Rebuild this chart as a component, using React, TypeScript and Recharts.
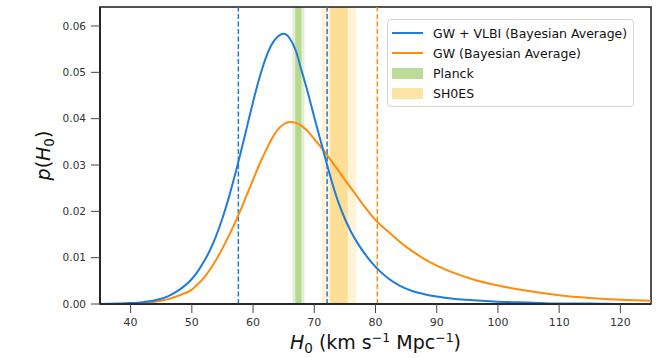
import React from "react"
import {
  ComposedChart,
  Line,
  XAxis,
  YAxis,
  ReferenceArea,
  ReferenceLine,
} from "recharts"

// H0 grid (km/s/Mpc) and the two posteriors
const h0Values = [
  35, 38, 40, 42, 44, 46, 48, 50, 51, 52, 53, 54, 55, 56, 57, 58, 59, 60, 61, 62, 63, 64, 65, 66, 67,
  68, 69, 70, 71, 72, 73, 74, 75, 76, 77, 78, 80, 82, 84, 86, 88, 90, 93, 96, 100, 105, 110, 115, 120, 125,
]
const gwVlbiValues = [
  0.0, 0.0001, 0.0002, 0.0004, 0.0008, 0.0016, 0.0031, 0.0054, 0.0071, 0.0092, 0.0117, 0.0148, 0.0185,
  0.0228, 0.0276, 0.0328, 0.0382, 0.0436, 0.0486, 0.0528, 0.0559, 0.0577, 0.0583, 0.0573, 0.0546, 0.05,
  0.0454, 0.0403, 0.0354, 0.0305, 0.0258, 0.0217, 0.0184, 0.0156, 0.0133, 0.0113, 0.008, 0.0056, 0.0039,
  0.0028, 0.0021, 0.0016, 0.0011, 0.0008, 0.0005, 0.0003, 0.0001, 0.0001, 0.0, 0.0,
]
const gwValues = [
  0.0, 0.0, 0.0001, 0.0002, 0.0005, 0.001, 0.0019, 0.0031, 0.0043, 0.0057, 0.0075, 0.0096, 0.012, 0.0146,
  0.0174, 0.0204, 0.0236, 0.0268, 0.03, 0.0329, 0.0355, 0.0376, 0.0388, 0.0393, 0.0391, 0.0384, 0.0372,
  0.0356, 0.034, 0.0323, 0.0305, 0.0287, 0.0268, 0.025, 0.0232, 0.0214, 0.0181, 0.0157, 0.0134, 0.0114,
  0.0097, 0.0083, 0.0066, 0.0053, 0.004, 0.0028, 0.0019, 0.0013, 0.0009, 0.0007,
]

// credible-interval markers and reference measurements
const gwVlbiInterval = [57.6, 72.1]
const gwUpper = 80.3
const planck = { mean: 67.4, sigma: 0.5 }
const shoes = { mean: 74.03, sigma: 1.42 }

const xTicks = [40, 50, 60, 70, 80, 90, 100, 110, 120]
const yTicks = [0, 0.01, 0.02, 0.03, 0.04, 0.05, 0.06]
const xDomain = [35, 125]
const yDomain = [0, 0.0641]

const data = h0Values.map((h0, i) => ({ h0, gwVlbi: gwVlbiValues[i], gw: gwValues[i] }))

const BLUE = "#1f7bdc"
const ORANGE = "#ff8c0a"
const FONT = "DejaVu Sans"

function XLabel(props: any) {
  const { viewBox } = props
  const cx = viewBox.x + viewBox.width / 2
  const y = viewBox.y + 45
  return (
    <text x={cx} y={y} textAnchor="middle" fontFamily={FONT} fontSize={19} fill="#111">
      <tspan fontStyle="italic">H</tspan>
      <tspan fontSize={13.5} dy={4}>0</tspan>
      <tspan dy={-4}> (km s</tspan>
      <tspan fontSize={12.5} dy={-7}>−1</tspan>
      <tspan dy={7}> Mpc</tspan>
      <tspan fontSize={12.5} dy={-7}>−1</tspan>
      <tspan dy={7}>)</tspan>
    </text>
  )
}

function YLabel(props: any) {
  const { viewBox } = props
  const cy = viewBox.y + viewBox.height / 2
  const x = 50
  return (
    <text
      x={x}
      y={cy}
      textAnchor="middle"
      transform={`rotate(-90, ${x}, ${cy})`}
      fontFamily={FONT}
      fontSize={19}
      fill="#111"
    >
      <tspan fontStyle="italic">p</tspan>
      <tspan>(</tspan>
      <tspan fontStyle="italic">H</tspan>
      <tspan fontSize={13.5} dy={4}>0</tspan>
      <tspan dy={-4}>)</tspan>
    </text>
  )
}

const legendItems = [
  { label: "GW + VLBI (Bayesian Average)", kind: "line", color: BLUE },
  { label: "GW (Bayesian Average)", kind: "line", color: ORANGE },
  { label: "Planck", kind: "patch", color: "#badc98" },
  { label: "SH0ES", kind: "patch", color: "#fde4a6" },
]

function LegendBox() {
  return (
    <div
      style={{
        position: "absolute",
        left: 387,
        top: 19,
        width: 245,
        height: 86,
        border: "1px solid #d4d4d4",
        borderRadius: 4,
        background: "#fff",
        fontFamily: FONT,
        fontSize: 12.5,
        color: "#111",
      }}
    >
      {legendItems.map((item, i) => (
        <div
          key={i}
          style={{ position: "absolute", left: 4, top: 5 + i * 20.3, height: 16, display: "flex", alignItems: "center" }}
        >
          <span
            style={{ display: "inline-block", width: 31, height: item.kind === "line" ? 2 : 11, background: item.color }}
          />
          <span style={{ marginLeft: 10, whiteSpace: "nowrap" }}>{item.label}</span>
        </div>
      ))}
    </div>
  )
}

export default function App() {
  return (
    <div style={{ position: "absolute", left: 0, top: 0, width: 665, height: 358, background: "#fff" }}>
      <ComposedChart width={665} height={358} data={data} margin={{ top: 7, right: 14, left: 0, bottom: 0 }}>
        <ReferenceArea
          x1={planck.mean - 2 * planck.sigma}
          x2={planck.mean + 2 * planck.sigma}
          fill="#e2efd4"
          fillOpacity={1}
          stroke="none"
        />
        <ReferenceArea
          x1={planck.mean - planck.sigma}
          x2={planck.mean + planck.sigma}
          fill="#b6d98f"
          fillOpacity={1}
          stroke="none"
        />
        <ReferenceArea
          x1={shoes.mean - 2 * shoes.sigma}
          x2={shoes.mean + 2 * shoes.sigma}
          fill="#fff2d6"
          fillOpacity={1}
          stroke="none"
        />
        <ReferenceArea
          x1={shoes.mean - shoes.sigma}
          x2={shoes.mean + shoes.sigma}
          fill="#fedd94"
          fillOpacity={1}
          stroke="none"
        />
        <XAxis
          dataKey="h0"
          type="number"
          domain={xDomain}
          ticks={xTicks}
          allowDataOverflow
          height={54}
          tickSize={9}
          tickMargin={5}
          tick={{ fontFamily: FONT, fontSize: 11, fill: "#333" }}
          tickLine={{ stroke: "#444", strokeWidth: 1 }}
          axisLine={{ stroke: "#1a1a1a", strokeWidth: 1.5 }}
          label={<XLabel />}
        />
        <YAxis
          type="number"
          domain={yDomain}
          ticks={yTicks}
          allowDataOverflow
          width={100}
          tickSize={9}
          tickMargin={5}
          tickFormatter={(v: number) => v.toFixed(2)}
          tick={{ fontFamily: FONT, fontSize: 10.5, fill: "#333" }}
          tickLine={{ stroke: "#444", strokeWidth: 1 }}
          axisLine={{ stroke: "#1a1a1a", strokeWidth: 1.5 }}
          label={<YLabel />}
        />
        {gwVlbiInterval.map((x) => (
          <ReferenceLine key={x} x={x} stroke={BLUE} strokeWidth={1.5} strokeDasharray="5 2.5" />
        ))}
        <ReferenceLine x={gwUpper} stroke={ORANGE} strokeWidth={1.5} strokeDasharray="5 2.5" />
        <Line type="monotone" dataKey="gw" stroke={ORANGE} strokeWidth={2} dot={false} isAnimationActive={false} />
        <Line type="monotone" dataKey="gwVlbi" stroke={BLUE} strokeWidth={2} dot={false} isAnimationActive={false} />
        <ReferenceArea
          x1={xDomain[0]}
          x2={xDomain[1]}
          y1={yDomain[0]}
          y2={yDomain[1]}
          fill="none"
          stroke="#1a1a1a"
          strokeWidth={1.5}
        />
      </ComposedChart>
      <LegendBox />
    </div>
  )
}
